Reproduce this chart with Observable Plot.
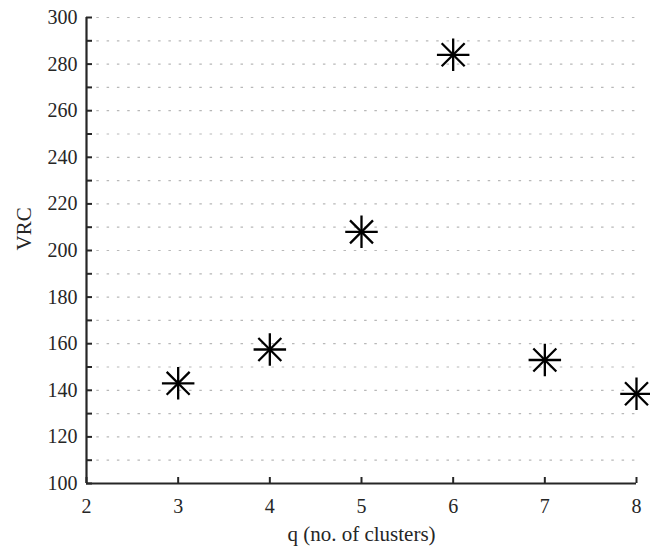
<!DOCTYPE html>
<html>
<head>
<meta charset="utf-8">
<script src="https://cdn.jsdelivr.net/npm/d3@7"></script>
<script src="https://cdn.jsdelivr.net/npm/@observablehq/plot@0.6"></script>
<style>
  body { margin: 0; background: #fff; }
  svg { display: block; }
  #chart svg, #chart svg text { font-family: "Liberation Serif", "DejaVu Serif", serif; }
</style>
</head>
<body>
<div id="chart"></div>
<script>
const clusters = [3, 4, 5, 6, 7, 8];
const vrc = [143, 157.5, 208, 284, 153, 138.5];
const xTicks = [2, 3, 4, 5, 6, 7, 8];
const yTicks = [100, 120, 140, 160, 180, 200, 220, 240, 260, 280, 300];
const yMinor = d3.range(100, 301, 10);
const gridLines = d3.range(110, 301, 10);

const data = clusters.map((q, i) => ({q, v: vrc[i]}));
const axisColor = "#262626";
const font = "Liberation Serif";

const chart = Plot.plot({
  width: 650,
  height: 552,
  marginLeft: 86,
  marginRight: 14,
  marginTop: 17,
  marginBottom: 69,
  style: {fontSize: "20px", color: "#262626", background: "#fff"},
  x: {domain: [2, 8], ticks: xTicks, label: null},
  y: {domain: [100, 300], ticks: yTicks, label: null},
  marks: [
    Plot.ruleY(gridLines, {y: d => d, stroke: "#b8b8b8", strokeWidth: 1.2, strokeDasharray: "2.5,7.8"}),
    Plot.ruleX([2], {x: d => d, stroke: axisColor, strokeWidth: 2.2}),
    Plot.ruleY([100], {y: d => d, stroke: axisColor, strokeWidth: 2.2}),
    Plot.ruleY(yMinor, {y: d => d, x1: 2, x2: 2, insetRight: -6, stroke: axisColor, strokeWidth: 2}),
    Plot.ruleX(xTicks, {x: d => d, y1: 100, y2: 100, insetTop: -6, stroke: axisColor, strokeWidth: 2}),
    Plot.axisY(yTicks, {tickSize: 0, tickPadding: 9, fontSize: 20, fontFamily: font, fill: axisColor, label: null}),
    Plot.axisX(xTicks, {tickSize: 0, tickPadding: 15, fontSize: 20, fontFamily: font, fill: axisColor, label: null}),
    Plot.dot(data, {x: "q", y: "v", symbol: "plus", r: 10.5, stroke: "#000", strokeWidth: 2.3}),
    Plot.dot(data, {x: "q", y: "v", symbol: "times", r: 10.5, stroke: "#000", strokeWidth: 2.3}),
    Plot.text(["VRC"], {frameAnchor: "left", dx: -62, rotate: -90, text: d => d, fontSize: 21, fontFamily: font, fill: axisColor}),
    Plot.text(["q (no. of clusters)"], {frameAnchor: "bottom", dy: 57, text: d => d, fontSize: 21, fontFamily: font, fill: axisColor})
  ]
});
document.getElementById("chart").append(chart);
</script>
</body>
</html>
